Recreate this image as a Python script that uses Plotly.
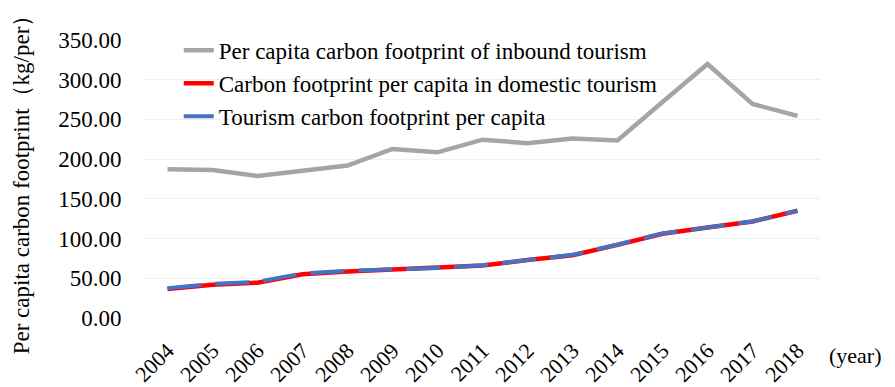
import plotly.graph_objects as go

years = [str(y) for y in range(2004, 2019)]
inbound = [187.2, 186.3, 178.8, 186.0, 192.0, 212.8, 208.6, 224.5, 220.0, 226.0, 223.5, 272.0, 319.8, 269.4, 254.5]
domestic = [36.5, 42.0, 44.5, 55.0, 58.5, 61.0, 62.5, 66.0, 73.0, 79.0, 92.0, 106.0, 114.0, 121.5, 135.0]
total = [37.5, 43.0, 45.5, 56.0, 59.5, 61.5, 63.0, 66.5, 73.5, 79.5, 92.5, 106.5, 114.0, 121.5, 135.0]

names = [
    "Per capita carbon footprint of inbound tourism",
    "Carbon footprint per capita in domestic tourism",
    "Tourism carbon footprint per capita",
]
y_ticks = [0, 50, 100, 150, 200, 250, 300, 350]

FONT = "Liberation Serif"

fig = go.Figure()
fig.add_trace(go.Scatter(x=years, y=inbound, mode="lines", name=names[0], legendgroup="a",
                         line=dict(color="#A5A5A5", width=4.5)))
fig.add_trace(go.Scatter(x=years, y=domestic, mode="lines", name=names[1], legendgroup="b",
                         line=dict(color="#FF0000", width=4.5)))
fig.add_trace(go.Scatter(x=years, y=total, mode="lines", name=names[2], legendgroup="c",
                         line=dict(color="#4472C4", width=4, dash="34px,14px")))

fig.update_layout(
    width=895, height=387,
    margin=dict(l=145, r=75, t=40, b=69),
    paper_bgcolor="white", plot_bgcolor="white",
    font=dict(family=FONT, size=23, color="#000000"),
    showlegend=True,
    legend=dict(x=0.05, y=1.04, xanchor="left", yanchor="top", bgcolor="rgba(0,0,0,0)",
                font=dict(family=FONT, size=23, color="#000000"), tracegroupgap=0,
                traceorder="normal"),
    xaxis=dict(type="category", tickangle=-45, showgrid=False, showline=False, zeroline=False,
               tickfont=dict(family=FONT, size=22, color="#000000"), automargin=False,
               ticks="outside", ticklen=10, tickcolor="rgba(0,0,0,0)", range=[-0.5, 14.5]),
    yaxis=dict(range=[0, 350], tickvals=y_ticks, ticktext=[f"{v:.2f}" for v in y_ticks],
               gridcolor="#EFEFEF", gridwidth=1, zeroline=False, showline=False,
               ticks="outside", ticklen=18, tickcolor="rgba(0,0,0,0)", automargin=False,
               tickfont=dict(family=FONT, size=23, color="#000000"),
               title=dict(text="Per capita carbon footprint（kg/per）", standoff=22,
                          font=dict(family=FONT, size=23, color="#000000"))),
    annotations=[dict(text="(year)", x=(855 - 145) / 675, y=-0.135, xref="paper", yref="paper",
                      xanchor="center", yanchor="middle", showarrow=False,
                      font=dict(family=FONT, size=22, color="#000000"))],
)

fig.write_html("out.html")
